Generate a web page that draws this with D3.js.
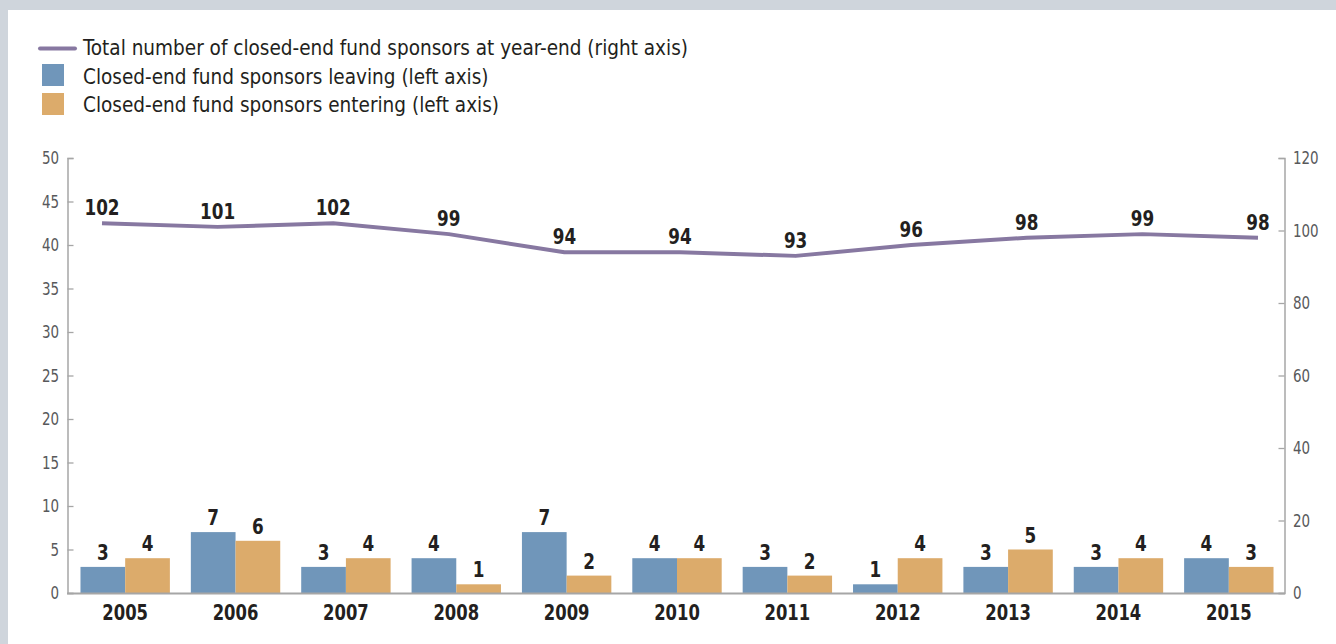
<!DOCTYPE html>
<html>
<head>
<meta charset="utf-8">
<script src="https://cdn.jsdelivr.net/npm/d3@7"></script>
<style>
html,body{margin:0;padding:0;background:#cfd5dc;}
svg{display:block;}
text{font-family:"DejaVu Sans Condensed","Liberation Sans Narrow",sans-serif;font-stretch:condensed;}
</style>
</head>
<body>
<script>
const years = ["2005","2006","2007","2008","2009","2010","2011","2012","2013","2014","2015"];
const leaving = [3,7,3,4,7,4,3,1,3,3,4];
const entering = [4,6,4,1,2,4,2,4,5,4,3];
const totalSponsors = [102,101,102,99,94,94,93,96,98,99,98];
const leftTicks = [0,5,10,15,20,25,30,35,40,45,50];
const rightTicks = [0,20,40,60,80,100,120];
const legendLabels = [
  "Total number of closed-end fund sponsors at year-end (right axis)",
  "Closed-end fund sponsors leaving (left axis)",
  "Closed-end fund sponsors entering (left axis)"
];

const W = 1336, H = 644;
const C = {leave:"#7096ba", enter:"#dcab6b", line:"#8778a1", axis:"#a6a6a6", tick:"#58595b", label:"#231f20"};

const svg = d3.select("body").append("svg").attr("width", W).attr("height", H);
svg.append("rect").attr("x", 8).attr("y", 10).attr("width", W - 8).attr("height", H - 10).attr("fill", "#fff");

const yL = d3.scaleLinear().domain([0,50]).range([593,158]);
const yR = d3.scaleLinear().domain([0,120]).range([593,158]);
const x = d3.scaleBand().domain(years).range([70,1284]).paddingInner(0.19).paddingOuter(0.095);
const xs = d3.scaleBand().domain(["leave","enter"]).range([0, x.bandwidth()]);
const xLine = d3.scalePoint().domain(years).range([102,1258]);

// condensed text helper
function ctext(sel, fx, fy, sx) {
  return sel.attr("transform", (d,i)=>`translate(${fx(d,i)},${fy(d,i)}) scale(${sx},1)`);
}

// axes
const gL = svg.append("g").attr("transform","translate(67.5,0)")
  .call(d3.axisRight(yL).tickValues(leftTicks).tickSize(6).tickFormat(""));
const gR = svg.append("g").attr("transform","translate(1284.5,0)")
  .call(d3.axisLeft(yR).tickValues(rightTicks).tickSize(6).tickFormat(""));
[gL,gR].forEach(g=>{
  g.select(".domain").attr("stroke",C.axis).attr("stroke-width",1.5);
  g.selectAll(".tick line").attr("stroke",C.axis).attr("stroke-width",1.3);
});
ctext(svg.append("g").selectAll("text").data(leftTicks).join("text"),
  d=>59, d=>yL(d)+6, 0.88)
  .attr("text-anchor","end").attr("font-size",17).attr("fill",C.tick).text(d=>d);
ctext(svg.append("g").selectAll("text").data(rightTicks).join("text"),
  d=>1293, d=>yR(d)+6, 0.88)
  .attr("text-anchor","start").attr("font-size",17).attr("fill",C.tick).text(d=>d);

// bars
const groups = svg.append("g").selectAll("g").data(years).join("g")
  .attr("transform",d=>`translate(${x(d)},0)`);
groups.append("rect").attr("x",xs("leave")).attr("width",xs.bandwidth())
  .attr("y",(d,i)=>yL(leaving[i])).attr("height",(d,i)=>yL(0)-yL(leaving[i])).attr("fill",C.leave);
groups.append("rect").attr("x",xs("enter")).attr("width",xs.bandwidth())
  .attr("y",(d,i)=>yL(entering[i])).attr("height",(d,i)=>yL(0)-yL(entering[i])).attr("fill",C.enter);
ctext(groups.append("text"), ()=>xs("leave")+xs.bandwidth()/2, (d,i)=>yL(leaving[i])-7, 0.85)
  .attr("text-anchor","middle").attr("font-size",22).attr("font-weight","bold").attr("fill",C.label)
  .text((d,i)=>leaving[i]);
ctext(groups.append("text"), ()=>xs("enter")+xs.bandwidth()/2, (d,i)=>yL(entering[i])-7, 0.85)
  .attr("text-anchor","middle").attr("font-size",22).attr("font-weight","bold").attr("fill",C.label)
  .text((d,i)=>entering[i]);

// bottom axis line
svg.append("line").attr("x1",67).attr("x2",1285).attr("y1",593.5).attr("y2",593.5)
  .attr("stroke",C.axis).attr("stroke-width",2);
ctext(svg.append("g").selectAll("text").data(years).join("text"),
  d=>x(d)+x.bandwidth()/2, d=>620, 0.83)
  .attr("text-anchor","middle").attr("font-size",22).attr("font-weight","bold").attr("fill",C.label).text(d=>d);

// line
const line = d3.line().x((d,i)=>xLine(years[i])).y(d=>yR(d));
svg.append("path").datum(totalSponsors).attr("d",line).attr("fill","none")
  .attr("stroke",C.line).attr("stroke-width",4).attr("stroke-linejoin","round");
ctext(svg.append("g").selectAll("text").data(totalSponsors).join("text"),
  (d,i)=>xLine(years[i]), d=>yR(d)-8, 0.85)
  .attr("text-anchor","middle").attr("font-size",22).attr("font-weight","bold").attr("fill",C.label).text(d=>d);

// legend
const lg = svg.append("g");
lg.append("line").attr("x1",40).attr("x2",75).attr("y1",48.5).attr("y2",48.5)
  .attr("stroke",C.line).attr("stroke-width",4).attr("stroke-linecap","round");
lg.append("rect").attr("x",42).attr("y",64).attr("width",22).attr("height",22).attr("fill",C.leave);
lg.append("rect").attr("x",42).attr("y",93).attr("width",22).attr("height",22).attr("fill",C.enter);
ctext(lg.selectAll("text").data(legendLabels).join("text"), d=>83, (d,i)=>55+i*28.5, 0.934)
  .attr("font-size",22).attr("fill",C.label).text(d=>d);
</script>
</body>
</html>
